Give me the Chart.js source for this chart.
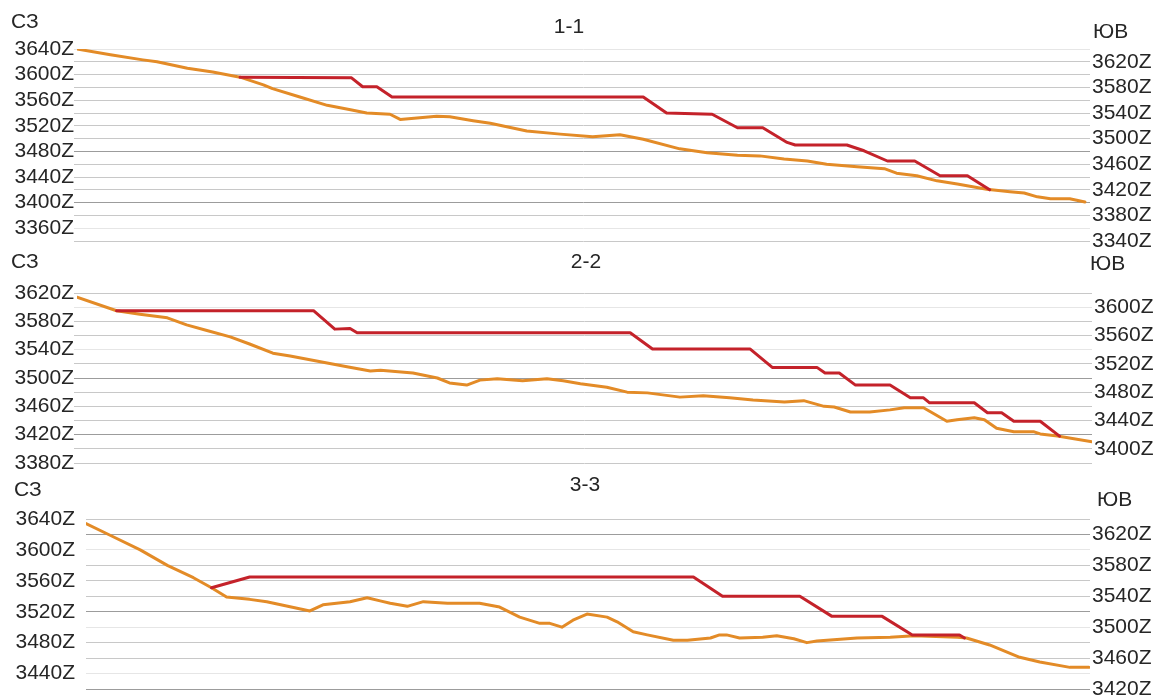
<!DOCTYPE html>
<html>
<head>
<meta charset="utf-8">
<script src="https://cdn.jsdelivr.net/npm/chart.js@4.4.1/dist/chart.umd.min.js"></script>
<style>
  html, body { margin: 0; padding: 0; background: #fff; overflow: hidden; }
  #wrap { position: relative; width: 1157px; height: 697px; overflow: hidden; background: #fff; }
  #wrap canvas { position: absolute; left: 0; top: 0; }
</style>
</head>
<body>
<div id="wrap">
  <canvas id="sec1" width="1157" height="720"></canvas>
  <canvas id="sec2" width="1157" height="720"></canvas>
  <canvas id="sec3" width="1157" height="720"></canvas>
</div>
<script>
// Side captions and section names
const sideNW = 'СЗ';
const sideSE = 'ЮВ';
const sectionNames = ['1-1', '2-2', '3-3'];

// Section 1-1: distance along section (0..1000) and elevations
const terrain1X = [0, 33, 65, 79, 109, 134, 161, 184, 193, 220, 247, 270, 286, 309, 319, 355, 368, 391, 408, 444, 477, 509, 536, 559, 595, 622, 652, 674, 698, 721, 740, 770, 797, 809, 829, 849, 869, 898, 921, 935, 948, 961, 980, 995];
const terrain1Z = [3640, 3631, 3623, 3620, 3610, 3604, 3596, 3584, 3578, 3565, 3552, 3545, 3540, 3538, 3530, 3535, 3534, 3528, 3524, 3512, 3507, 3503, 3506, 3499, 3484, 3478, 3474, 3473, 3468, 3465, 3460, 3456, 3453, 3446, 3442, 3434, 3429, 3421, 3417, 3415, 3409, 3406, 3406, 3401];
const step1X = [161, 271, 282, 296, 311, 559, 582, 627, 652, 677, 701, 709, 760, 777, 800, 827, 852, 879, 901];
const step1Z = [3596, 3595, 3581, 3581, 3565, 3565, 3540, 3538, 3517, 3517, 3494, 3490, 3490, 3481, 3465, 3465, 3442, 3442, 3420];
const left1Ticks = [3640, 3600, 3560, 3520, 3480, 3440, 3400, 3360];
const right1Ticks = [3620, 3580, 3540, 3500, 3460, 3420, 3380, 3340];

// Section 2-2
const terrain2X = [0, 39, 62, 89, 108, 128, 151, 170, 193, 210, 236, 266, 289, 299, 331, 355, 367, 384, 397, 414, 439, 463, 479, 496, 522, 542, 562, 594, 617, 643, 666, 697, 716, 736, 746, 762, 781, 801, 815, 834, 840, 857, 867, 884, 894, 906, 923, 943, 949, 966, 1000];
const terrain2Z = [3614, 3595, 3590, 3585, 3575, 3567, 3558, 3548, 3535, 3531, 3524, 3516, 3510, 3511, 3507, 3500, 3493, 3490, 3497, 3499, 3496, 3499, 3496, 3492, 3487, 3480, 3479, 3473, 3475, 3472, 3469, 3466, 3468, 3460, 3459, 3452, 3452, 3455, 3458, 3458, 3453, 3439, 3441, 3444, 3441, 3429, 3424, 3424, 3421, 3418, 3410];
const step2X = [39, 233, 254, 269, 276, 545, 567, 663, 685, 729, 737, 751, 767, 801, 821, 834, 840, 884, 897, 911, 923, 949, 968];
const step2Z = [3595, 3595, 3569, 3570, 3564, 3564, 3541, 3541, 3515, 3515, 3507, 3507, 3490, 3490, 3472, 3472, 3465, 3465, 3451, 3451, 3439, 3439, 3418];
const left2Ticks = [3620, 3580, 3540, 3500, 3460, 3420, 3380];
const right2Ticks = [3600, 3560, 3520, 3480, 3440, 3400];

// Section 3-3
const terrain3X = [0, 24, 54, 81, 107, 125, 140, 163, 180, 223, 236, 263, 280, 293, 303, 320, 336, 360, 392, 412, 432, 452, 462, 474, 485, 499, 519, 529, 545, 559, 585, 599, 622, 631, 638, 651, 674, 688, 705, 718, 728, 768, 801, 825, 868, 877, 900, 930, 950, 980, 999];
const terrain3Z = [3634, 3619, 3600, 3580, 3564, 3551, 3539, 3536, 3533, 3521, 3529, 3533, 3538, 3534, 3531, 3527, 3533, 3531, 3531, 3526, 3513, 3505, 3505, 3500, 3509, 3517, 3513, 3507, 3494, 3490, 3483, 3483, 3486, 3490, 3490, 3486, 3487, 3489, 3485, 3480, 3482, 3486, 3487, 3489, 3487, 3486, 3477, 3461, 3455, 3448, 3448];
const step3X = [125, 163, 605, 634, 711, 743, 793, 823, 870, 875];
const step3Z = [3551, 3565, 3565, 3540, 3540, 3514, 3514, 3490, 3490, 3486];
const left3Ticks = [3640, 3600, 3560, 3520, 3480, 3440];
const right3Ticks = [3620, 3580, 3540, 3500, 3460, 3420];

const TEXT = '#262626';
const ORANGE = '#E38B27';
const RED = '#C4222A';
const FONT = '"Liberation Sans", Arial, sans-serif';

const toPoints = (xs, zs) => xs.map((x, i) => ({ x, y: zs[i] }));

// Draws the side captions (СЗ / ЮВ) and the section name above each plot
const captions = {
  id: 'captions',
  afterDraw(chart, args, opts) {
    const ctx = chart.ctx;
    ctx.save();
    ctx.fillStyle = TEXT;
    ctx.textBaseline = 'middle';
    for (const t of opts.items) {
      ctx.font = t.font;
      ctx.textAlign = t.align;
      ctx.fillText(t.text, t.x, t.y);
    }
    ctx.restore();
  }
};

function makeSection(id, cfg) {
  const gridColor = (c) => {
    const v = Math.round(c.tick.value);
    if (cfg.darkGrid.includes(v)) return '#9c9c9c';
    if (cfg.faintGrid.includes(v)) return '#e6e6e6';
    return '#c8c8c8';
  };
  const lineStyle = { borderWidth: 3, pointRadius: 0, tension: 0, borderJoinStyle: 'round', borderCapStyle: 'round' };
  return new Chart(document.getElementById(id), {
    type: 'line',
    data: {
      datasets: [
        Object.assign({ data: toPoints(cfg.stepX, cfg.stepZ), borderColor: RED }, lineStyle),
        Object.assign({ data: toPoints(cfg.terrainX, cfg.terrainZ), borderColor: ORANGE }, lineStyle)
      ]
    },
    options: {
      responsive: false,
      animation: false,
      devicePixelRatio: 1,
      events: [],
      layout: { padding: { top: cfg.top, bottom: 720 - cfg.bottom, left: 0, right: 0 } },
      plugins: {
        legend: { display: false },
        tooltip: { enabled: false },
        title: { display: false },
        captions: { items: cfg.captions }
      },
      scales: {
        x: { type: 'linear', min: 0, max: 1000, display: false },
        y: {
          type: 'linear',
          position: 'left',
          min: cfg.min,
          max: cfg.max,
          afterFit: (s) => { s.width = cfg.left; },
          border: { display: false },
          grid: {
            color: gridColor,
            lineWidth: 1,
            drawTicks: cfg.tickLen > 0,
            tickLength: cfg.tickLen
          },
          ticks: {
            stepSize: 20,
            autoSkip: false,
            padding: cfg.leftPad,
            color: TEXT,
            font: { family: FONT, size: 21 },
            callback: (v) => cfg.leftTicks.includes(Math.round(v)) ? Math.round(v) + 'Z' : ''
          }
        },
        y2: {
          type: 'linear',
          position: 'right',
          min: cfg.min,
          max: cfg.max,
          afterFit: (s) => { s.width = 1157 - cfg.right; },
          border: { display: false },
          grid: { display: false, drawTicks: false },
          ticks: {
            stepSize: 20,
            autoSkip: false,
            padding: 2,
            color: TEXT,
            font: { family: FONT, size: 21 },
            callback: (v) => cfg.rightTicks.includes(Math.round(v)) ? Math.round(v) + 'Z' : ''
          }
        }
      }
    },
    plugins: [captions]
  });
}

const capFont = '21px ' + FONT;
const titleFont = '21px ' + FONT;

makeSection('sec1', {
  terrainX: terrain1X, terrainZ: terrain1Z, stepX: step1X, stepZ: step1Z,
  leftTicks: left1Ticks, rightTicks: right1Ticks,
  min: 3340, max: 3640, top: 49, bottom: 241, left: 77, right: 1090,
  tickLen: 3, leftPad: 0,
  darkGrid: [3480, 3400], faintGrid: [3640, 3360],
  captions: [
    { text: sideNW, x: 11, y: 22, align: 'left', font: capFont },
    { text: sideSE, x: 1093, y: 32, align: 'left', font: capFont },
    { text: sectionNames[0], x: 569, y: 27, align: 'center', font: titleFont }
  ]
});

makeSection('sec2', {
  terrainX: terrain2X, terrainZ: terrain2Z, stepX: step2X, stepZ: step2Z,
  leftTicks: left2Ticks, rightTicks: right2Ticks,
  min: 3380, max: 3620, top: 293, bottom: 463, left: 77, right: 1092,
  tickLen: 3, leftPad: 0,
  darkGrid: [3500, 3420], faintGrid: [3600, 3540],
  captions: [
    { text: sideNW, x: 11, y: 262, align: 'left', font: capFont },
    { text: sideSE, x: 1090, y: 264, align: 'left', font: capFont },
    { text: sectionNames[1], x: 586, y: 262, align: 'center', font: titleFont }
  ]
});

makeSection('sec3', {
  terrainX: terrain3X, terrainZ: terrain3Z, stepX: step3X, stepZ: step3Z,
  leftTicks: left3Ticks, rightTicks: right3Ticks,
  min: 3420, max: 3640, top: 519, bottom: 689, left: 86, right: 1090,
  tickLen: 0, leftPad: 11,
  darkGrid: [3620, 3520, 3420], faintGrid: [3600, 3500, 3440],
  captions: [
    { text: sideNW, x: 14, y: 490, align: 'left', font: capFont },
    { text: sideSE, x: 1097, y: 500, align: 'left', font: capFont },
    { text: sectionNames[2], x: 585, y: 485, align: 'center', font: titleFont }
  ]
});
</script>
</body>
</html>
